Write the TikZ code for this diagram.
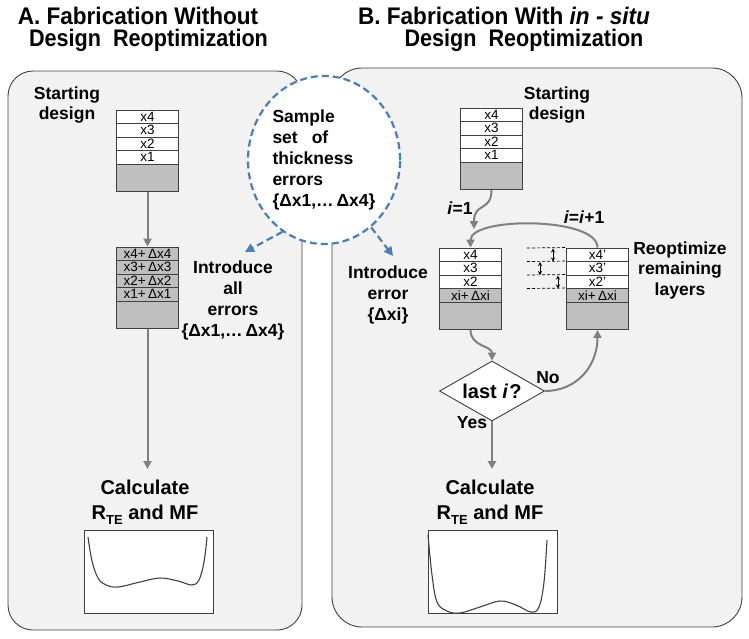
\documentclass[tikz,border=0pt]{standalone}
\usepackage{fontspec}
\setmainfont{Liberation Sans}
\usetikzlibrary{arrows.meta,shapes.geometric,calc}
\definecolor{panelfill}{RGB}{242,242,242}
\definecolor{subfill}{RGB}{191,191,191}
\definecolor{arrowgray}{RGB}{128,128,128}
\definecolor{dashblue}{RGB}{74,126,187}
\definecolor{edge}{RGB}{64,64,64}
\begin{document}
\begin{tikzpicture}[x=1pt,y=-1pt,
  panel/.style={draw=edge, line width=0.9pt, fill=panelfill},
  layer/.style={draw=edge, line width=0.9pt, fill=white, minimum width=62pt, minimum height=13.5pt, inner sep=0pt, font=\fontsize{13.5}{13.5}\selectfont},
  errlayer/.style={layer, fill=subfill},
  substrate/.style={draw=edge, line width=0.9pt, fill=subfill, minimum width=62pt, minimum height=27.5pt, inner sep=0pt},
  titletext/.style={font=\bfseries\fontsize{24}{28}\selectfont, inner sep=0pt},
  lbl/.style={font=\bfseries\fontsize{17.5}{21}\selectfont, align=center, inner sep=0pt},
  calctext/.style={font=\bfseries\fontsize{20}{25}\selectfont, align=center, inner sep=0pt, anchor=north},
  garrow/.style={draw=arrowgray, line width=2pt, -{Triangle[length=8pt,width=8pt]}},
  barrow/.style={draw=dashblue, line width=2.2pt, dash pattern=on 7pt off 4pt, -{Triangle[length=9pt,width=9pt]}},
  plotbox/.style={draw=edge, line width=0.9pt, fill=white, minimum width=129pt, minimum height=83pt, inner sep=0pt},
  curve/.style={draw=edge, line width=1.1pt},
  dimarrow/.style={draw=black, line width=0.8pt, {Stealth[length=4pt,width=4pt]}-{Stealth[length=4pt,width=4pt]}},
  guide/.style={draw=black, line width=0.7pt, dash pattern=on 3pt off 2pt}
]
\useasboundingbox (0,0) rectangle (749,638);

% titles
\node[titletext] (tA1) at (138,15.5) {\scalebox{0.94}[1]{A. Fabrication Without}};
\node[titletext] (tA2) at (148.5,40.5) {\scalebox{0.9}[1]{Design~~Reoptimization}};
\node[titletext] (tB1) at (504,15.5) {\scalebox{0.94}[1]{B. Fabrication With \textit{in - situ}}};
\node[titletext] (tB2) at (524,40.5) {\scalebox{0.9}[1]{Design~~Reoptimization}};

% panels
\draw[panel, rounded corners=25pt] (8,71) rectangle (302,630);
\draw[panel, rounded corners=30pt] (332,68) rectangle (742,627);

% ---------- Panel A ----------
\node[lbl, anchor=north, font=\bfseries\fontsize{17.5}{20}\selectfont] (sdA) at (67,86.5) {Starting\\design};
\node[layer] (a1x4) at (147.5,116.75) {x4};
\node[layer] (a1x3) at (147.5,130.25) {x3};
\node[layer] (a1x2) at (147.5,143.75) {x2};
\node[layer] (a1x1) at (147.5,157.25) {x1};
\node[substrate] (a1sub) at (147.5,177.75) {};

\node[errlayer] (a2x4) at (147.5,253.75) {x4+\,Δx4};
\node[errlayer] (a2x3) at (147.5,267.25) {x3+\,Δx3};
\node[errlayer] (a2x2) at (147.5,280.75) {x2+\,Δx2};
\node[errlayer] (a2x1) at (147.5,294.25) {x1+\,Δx1};
\node[substrate] (a2sub) at (147.5,314.75) {};

\node[lbl, anchor=north] (introA) at (233,260.5) {Introduce\\all\\errors\\\{Δx1,…\,Δx4\}};

\draw[garrow] (a1sub.south) -- (a2x4.north);

\node[calctext] (calcA) at (145,480) {Calculate\\R\raisebox{-0.25em}{\fontsize{13}{13}\selectfont TE} and MF};
\draw[garrow, shorten >=11pt] (a2sub.south) -- (a2sub.south |- calcA.north);

\node[plotbox] (plotA) at (148.5,571.5) {};
\draw[curve] plot[smooth, tension=0.6] coordinates {(88,537) (92,561) (98,578) (106,585) (118,587) (140,582) (160,578) (178,581) (192,585) (199,580) (204,562) (207,537)};

% ---------- Panel B ----------
\node[lbl, anchor=north, font=\bfseries\fontsize{17.5}{20}\selectfont] (sdB) at (557,86.5) {Starting\\design};
\node[layer] (b1x4) at (491.5,114.75) {x4};
\node[layer] (b1x3) at (491.5,128.25) {x3};
\node[layer] (b1x2) at (491.5,141.75) {x2};
\node[layer] (b1x1) at (491.5,155.25) {x1};
\node[substrate] (b1sub) at (491.5,175.75) {};

\node[layer] (b2x4) at (470.5,254.75) {x4};
\node[layer] (b2x3) at (470.5,268.25) {x3};
\node[layer] (b2x2) at (470.5,281.75) {x2};
\node[errlayer] (b2xi) at (470.5,295.25) {xi+\,Δxi};
\node[substrate] (b2sub) at (470.5,315.75) {};

\node[layer] (b3x4) at (597.5,254.75) {x4’};
\node[layer] (b3x3) at (597.5,268.25) {x3’};
\node[layer] (b3x2) at (597.5,281.75) {x2’};
\node[errlayer] (b3xi) at (597.5,295.25) {xi+\,Δxi};
\node[substrate] (b3sub) at (597.5,315.75) {};

% guides and small double arrows
\coordinate (g1) at (527,248);
\coordinate (g2) at (527,261.5);
\coordinate (g3) at (527,275);
\coordinate (g4) at (527,288.5);
\draw[guide] (g1) -- (b3x4.north west);
\draw[guide] (g2) -- (b3x3.north west);
\draw[guide] (g3) -- (b3x2.north west);
\draw[guide] (g4) -- (b3xi.north west);
\coordinate (d1a) at (553,248.5); \coordinate (d1b) at (553,261.5);
\coordinate (d2a) at (540,262); \coordinate (d2b) at (540,275);
\coordinate (d3a) at (558,275.5); \coordinate (d3b) at (558,288.5);
\draw[dimarrow] (d1a) -- (d1b);
\draw[dimarrow] (d2a) -- (d2b);
\draw[dimarrow] (d3a) -- (d3b);

\node[lbl, anchor=north] (introB) at (388,265.5) {Introduce\\error\\\{Δxi\}};
\node[lbl, anchor=north, font=\bfseries\fontsize{17.5}{20.5}\selectfont] (reopt) at (680,241.5) {Reoptimize\\remaining\\layers};

% i=1 arrow
\coordinate (i1end) at (474,229);
\draw[garrow] (b1sub.south) .. controls +(0,22) and +(0,-27) .. (i1end);
\node[lbl] (i1lbl) at (460,208) {\textit{i}=1};

% loop arrow
\draw[garrow] (b3x4.north) .. controls +(0,-31) and +(0,-31) .. (b2x4.north);
\node[lbl] (iinc) at (584,217) {\textit{i}=\textit{i}+1};

% diamond
\node[diamond, draw=edge, fill=white, line width=0.9pt, minimum width=105pt, minimum height=60pt, shape aspect=2, inner sep=0pt, font=\bfseries\fontsize{20}{20}\selectfont] (dia) at (492,391) {last \textit{i}\kern1pt?};
\draw[garrow] (b2sub.south) .. controls +(0,17) and +(0,-15) .. (dia.north);
\draw[garrow] (dia.east) .. controls +(32,0) and +(0,36) .. (b3sub.south);
\node[lbl] (nolbl) at (548,378) {No};
\node[lbl] (yeslbl) at (472,423) {Yes};

\node[calctext] (calcB) at (490,480) {Calculate\\R\raisebox{-0.25em}{\fontsize{13}{13}\selectfont TE} and MF};
\draw[garrow, shorten >=11pt] (dia.south) -- (dia.south |- calcB.north);

\node[plotbox] (plotB) at (492.5,572) {};
\draw[curve] plot[smooth, tension=0.6] coordinates {(428,535) (432,575) (437,602) (447,611) (460,613) (480,607) (500,601) (516,605) (531,612) (539,607) (544,582) (547,540)};

% ---------- sample circle ----------
\node[ellipse, draw=dashblue, dash pattern=on 7pt off 4pt, line width=2.2pt, fill=white, minimum width=152pt, minimum height=168pt, inner sep=0pt, align=left, font=\bfseries\fontsize{17.5}{21}\selectfont] (circ) at (324,160) {Sample\\set\hspace{0.8em}of\\thickness\\errors\\\{Δx1,…\,Δx4\}};
\coordinate (tgtA) at (245,252);
\coordinate (tgtB) at (393,256);
\draw[barrow] (circ.240) -- (tgtA);
\draw[barrow] (circ.305) -- (tgtB);

\end{tikzpicture}
\end{document}
